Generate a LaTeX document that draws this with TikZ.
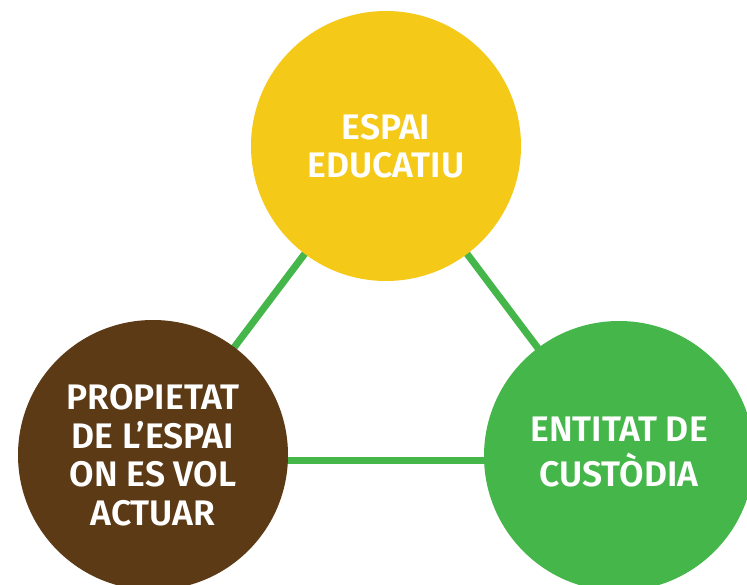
\documentclass[tikz,border=0pt]{standalone}
\usepackage{fontspec}
\setmainfont{Fira Sans}
\newfontfamily\semib{Fira Sans SemiBold}
\definecolor{cyellow}{HTML}{F5C917}
\definecolor{cbrown}{HTML}{5C3A16}
\definecolor{cgreen}{HTML}{45B649}
\begin{document}
\begin{tikzpicture}[x=1pt,y=-1pt,
  bubble/.style={circle,minimum size=270pt,inner sep=0pt,text=white,align=center,
    font=\semib\fontsize{35.5}{38.5}\selectfont},
  link/.style={draw=cgreen,line width=7pt}]
\useasboundingbox[fill=white] (0,0) rectangle (747,585);
\coordinate (ct) at (386,146);
\coordinate (cl) at (153,455);
\coordinate (cr) at (619,456);
\coordinate (bl) at (200,460);
\coordinate (br) at (560,460);
\draw[link] (ct) -- (cl);
\draw[link] (ct) -- (cr);
\draw[link] (bl) -- (br);
\node[bubble,fill=cyellow] (top) at (ct) {ESPAI\\EDUCATIU};
\node[bubble,fill=cbrown] (left) at (cl) {PROPIETAT\\DE L’ESPAI\\ON ES VOL\\ACTUAR};
\node[bubble,fill=cgreen] (right) at (cr) {\raisebox{4pt}{\begin{tabular}{@{}c@{}}ENTITAT DE\\CUSTÒDIA\end{tabular}}};
\end{tikzpicture}
\end{document}
